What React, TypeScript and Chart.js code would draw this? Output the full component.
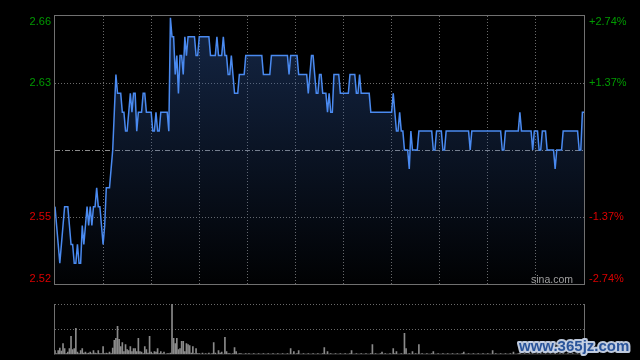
import React, { useEffect, useRef } from 'react';
import { Chart, registerables } from 'chart.js';

Chart.register(...registerables);

const PREV_CLOSE = 2.59;
const PERCENT_TICKS = [-2.74, -1.37, 1.37, 2.74];
const SESSION_MINUTES = 330;
const MINUTE_GRID = [0, 30, 60, 90, 120, 150, 180, 210, 240, 270, 300, 330];
const VOLUME_TICKS = [0, 50, 100];
const VOLUME_MAX = 100;

// one price per minute (HK session, 330 minutes)
const PRICES: number[] = [
  2.56, 2.55, 2.54, 2.53, 2.54, 2.55, 2.56, 2.56, 2.56, 2.55,
  2.54, 2.54, 2.53, 2.53, 2.54, 2.53, 2.53, 2.55, 2.54, 2.55,
  2.56, 2.55, 2.56, 2.55, 2.56, 2.56, 2.57, 2.56, 2.56, 2.55,
  2.54, 2.55, 2.57, 2.57, 2.57, 2.58, 2.59, 2.61, 2.63, 2.62,
  2.62, 2.62, 2.61, 2.61, 2.60, 2.60, 2.61, 2.62, 2.61, 2.62,
  2.62, 2.60, 2.61, 2.61, 2.61, 2.62, 2.62, 2.61, 2.61, 2.61,
  2.61, 2.60, 2.60, 2.61, 2.60, 2.60, 2.61, 2.61, 2.61, 2.61,
  2.61, 2.60, 2.66, 2.65, 2.65, 2.63, 2.64, 2.62, 2.64, 2.64,
  2.63, 2.65, 2.64, 2.65, 2.65, 2.65, 2.65, 2.65, 2.64, 2.64,
  2.65, 2.65, 2.65, 2.65, 2.65, 2.65, 2.65, 2.64, 2.64, 2.64,
  2.64, 2.65, 2.64, 2.64, 2.64, 2.65, 2.64, 2.64, 2.63, 2.63,
  2.64, 2.63, 2.62, 2.62, 2.62, 2.63, 2.63, 2.63, 2.63, 2.64,
  2.64, 2.64, 2.64, 2.64, 2.64, 2.64, 2.64, 2.64, 2.64, 2.64,
  2.63, 2.63, 2.63, 2.63, 2.63, 2.64, 2.64, 2.64, 2.64, 2.64,
  2.64, 2.64, 2.64, 2.64, 2.64, 2.64, 2.63, 2.64, 2.64, 2.64,
  2.64, 2.64, 2.63, 2.63, 2.63, 2.63, 2.63, 2.63, 2.62, 2.63,
  2.64, 2.64, 2.63, 2.62, 2.62, 2.63, 2.63, 2.62, 2.62, 2.62,
  2.61, 2.62, 2.61, 2.61, 2.63, 2.63, 2.63, 2.63, 2.62, 2.62,
  2.62, 2.62, 2.62, 2.62, 2.63, 2.63, 2.63, 2.63, 2.62, 2.62,
  2.63, 2.62, 2.62, 2.62, 2.62, 2.62, 2.62, 2.61, 2.61, 2.61,
  2.61, 2.61, 2.61, 2.61, 2.61, 2.61, 2.61, 2.61, 2.61, 2.61,
  2.61, 2.62, 2.61, 2.60, 2.60, 2.61, 2.60, 2.60, 2.59, 2.59,
  2.59, 2.58, 2.60, 2.59, 2.59, 2.59, 2.59, 2.60, 2.60, 2.60,
  2.60, 2.60, 2.60, 2.60, 2.60, 2.60, 2.59, 2.59, 2.60, 2.60,
  2.60, 2.60, 2.59, 2.59, 2.60, 2.60, 2.60, 2.60, 2.60, 2.60,
  2.60, 2.60, 2.60, 2.60, 2.60, 2.60, 2.60, 2.60, 2.60, 2.59,
  2.60, 2.60, 2.60, 2.60, 2.60, 2.60, 2.60, 2.60, 2.60, 2.60,
  2.60, 2.60, 2.60, 2.60, 2.60, 2.60, 2.60, 2.60, 2.60, 2.59,
  2.59, 2.60, 2.60, 2.60, 2.60, 2.60, 2.60, 2.60, 2.60, 2.60,
  2.61, 2.60, 2.60, 2.60, 2.60, 2.60, 2.60, 2.60, 2.59, 2.60,
  2.60, 2.60, 2.59, 2.59, 2.60, 2.60, 2.60, 2.59, 2.59, 2.59,
  2.59, 2.59, 2.58, 2.59, 2.59, 2.59, 2.59, 2.60, 2.60, 2.60,
  2.60, 2.60, 2.60, 2.60, 2.60, 2.60, 2.60, 2.59, 2.59, 2.61,
  2.61,
];

// relative volume per minute (max = 100)
const VOLUMES: number[] = [
  8, 2, 8, 13, 7, 22, 12, 2, 5, 12,
  36, 10, 12, 52, 5, 2, 8, 12, 3, 5,
  2, 3, 5, 2, 8, 3, 2, 8, 2, 2,
  16, 2, 3, 2, 5, 2, 13, 28, 32, 56,
  30, 16, 24, 6, 20, 10, 8, 16, 6, 12,
  12, 6, 32, 6, 5, 2, 16, 10, 3, 36,
  5, 2, 6, 5, 12, 2, 6, 2, 5, 1,
  2, 2, 3, 100, 32, 22, 32, 10, 12, 26,
  26, 6, 22, 20, 18, 3, 16, 2, 12, 2,
  2, 1, 3, 1, 2, 1, 3, 1, 2, 24,
  3, 1, 8, 3, 5, 1, 34, 6, 2, 2,
  1, 2, 14, 6, 1, 2, 2, 1, 1, 2,
  1, 2, 1, 1, 2, 1, 1, 2, 1, 1,
  2, 1, 1, 2, 1, 1, 2, 1, 1, 2,
  1, 1, 2, 1, 1, 2, 1, 12, 1, 6,
  1, 2, 8, 1, 1, 2, 1, 1, 2, 1,
  1, 2, 1, 1, 2, 1, 1, 2, 14, 1,
  6, 1, 2, 1, 1, 2, 1, 1, 2, 1,
  1, 2, 1, 1, 2, 8, 1, 1, 2, 1,
  1, 2, 1, 1, 2, 1, 1, 2, 20, 1,
  2, 1, 1, 2, 5, 1, 2, 1, 1, 2,
  1, 12, 2, 6, 1, 1, 2, 1, 42, 12,
  1, 2, 1, 6, 1, 2, 1, 20, 1, 2,
  1, 1, 2, 1, 1, 2, 6, 1, 1, 2,
  1, 1, 2, 1, 1, 2, 1, 1, 2, 1,
  1, 2, 1, 1, 2, 5, 1, 1, 2, 1,
  1, 2, 1, 1, 2, 1, 1, 2, 1, 1,
  2, 1, 1, 8, 1, 2, 1, 1, 2, 1,
  1, 2, 1, 1, 2, 1, 5, 1, 1, 2,
  3, 1, 1, 2, 1, 1, 2, 1, 2, 1,
  1, 2, 1, 2, 1, 1, 2, 1, 1, 2,
  1, 1, 3, 1, 1, 2, 1, 2, 1, 1,
  2, 1, 1, 2, 1, 1, 2, 1, 2, 3,
  3,
];

const GREEN = '#009a00';
const RED = '#dd0000';
const GRID = '#6a6a6a';
const FRAME = '#707070';
const FONT = 'Arial, "Liberation Sans", Helvetica, sans-serif';

export default function App() {
  const priceRef = useRef<HTMLCanvasElement | null>(null);
  const volRef = useRef<HTMLCanvasElement | null>(null);

  useEffect(() => {
    const priceTicks = PERCENT_TICKS.map((p) => PREV_CLOSE * (1 + p / 100));
    const yMin = priceTicks[0];
    const yMax = priceTicks[priceTicks.length - 1];

    const framePlugin = {
      id: 'priceFrame',
      beforeDatasetsDraw(chart: any) {
        const { ctx, chartArea: a, scales } = chart;
        const y = Math.floor(scales.y.getPixelForValue(PREV_CLOSE)) + 0.5;
        ctx.save();
        ctx.strokeStyle = '#8c8c8c';
        ctx.lineWidth = 1;
        ctx.setLineDash([5, 2, 1, 2]);
        ctx.beginPath();
        ctx.moveTo(a.left, y);
        ctx.lineTo(a.right, y);
        ctx.stroke();
        ctx.restore();
      },
      afterDraw(chart: any) {
        const { ctx, chartArea: a } = chart;
        ctx.save();
        ctx.strokeStyle = FRAME;
        ctx.lineWidth = 1;
        ctx.strokeRect(a.left - 0.5, a.top - 0.5, a.right - a.left + 1, a.bottom - a.top + 1);
        ctx.fillStyle = '#a0a0a0';
        ctx.font = '10.5px ' + FONT;
        ctx.textAlign = 'right';
        ctx.textBaseline = 'alphabetic';
        ctx.fillText('sina.com', a.right - 11, a.bottom - 1);
        ctx.restore();
      },
    };

    const priceChart = new Chart(priceRef.current as HTMLCanvasElement, {
      type: 'line',
      data: {
        datasets: [
          {
            data: PRICES.map((p, i) => ({ x: i, y: p })),
            borderColor: '#4a8af0',
            borderWidth: 1.5,
            pointRadius: 0,
            tension: 0,
            fill: 'start',
            backgroundColor: (c: any) => {
              const chart = c.chart;
              const a = chart.chartArea;
              if (!a) return 'rgba(0,0,0,0)';
              const g = chart.ctx.createLinearGradient(0, a.top, 0, a.bottom);
              g.addColorStop(0, 'rgba(45,85,155,0.45)');
              g.addColorStop(1, 'rgba(45,85,155,0.02)');
              return g;
            },
          },
        ],
      },
      options: {
        responsive: false,
        animation: false,
        events: [],
        layout: { padding: { top: 15, bottom: 76, left: 0, right: 0 } },
        plugins: { legend: { display: false }, tooltip: { enabled: false } },
        scales: {
          x: {
            type: 'linear',
            min: 0,
            max: SESSION_MINUTES,
            afterBuildTicks: (s: any) => {
              s.ticks = MINUTE_GRID.map((v) => ({ value: v }));
            },
            afterFit: (s: any) => {
              s.height = 0;
            },
            ticks: { display: false },
            grid: {
              drawTicks: false,
              color: (c: any) =>
                c.index === 0 || c.index === MINUTE_GRID.length - 1 ? 'rgba(0,0,0,0)' : GRID,
            },
            border: { display: false, dash: [1, 2] },
          },
          y: {
            type: 'linear',
            position: 'left',
            min: yMin,
            max: yMax,
            afterBuildTicks: (s: any) => {
              s.ticks = priceTicks.map((v) => ({ value: v }));
            },
            afterFit: (s: any) => {
              s.width = 55;
            },
            ticks: {
              autoSkip: false,
              padding: 4,
              font: { family: FONT, size: 11, lineHeight: 1 },
              color: (c: any) => (c.tick && c.tick.value > PREV_CLOSE ? GREEN : RED),
              callback: (value: any, index: number, ticks: any[]) => {
                const s = Number(value).toFixed(2);
                if (index === ticks.length - 1) return ['', s];
                if (index === 0) return [s, ''];
                return s;
              },
            },
            grid: {
              drawTicks: false,
              color: (c: any) =>
                c.index === 0 || c.index === priceTicks.length - 1 ? 'rgba(0,0,0,0)' : GRID,
            },
            border: { display: false, dash: [1, 2] },
          },
          y2: {
            type: 'linear',
            position: 'right',
            min: yMin,
            max: yMax,
            afterBuildTicks: (s: any) => {
              s.ticks = priceTicks.map((v) => ({ value: v }));
            },
            afterFit: (s: any) => {
              s.width = 56;
            },
            ticks: {
              autoSkip: false,
              padding: 5,
              font: { family: FONT, size: 11, lineHeight: 1 },
              color: (c: any) => (c.tick && c.tick.value > PREV_CLOSE ? GREEN : RED),
              callback: (value: any, index: number, ticks: any[]) => {
                const pct = (Number(value) / PREV_CLOSE - 1) * 100;
                const s = (pct > 0 ? '+' : '') + pct.toFixed(2) + '%';
                if (index === ticks.length - 1) return ['', s];
                if (index === 0) return [s, ''];
                return s;
              },
            },
            grid: { display: false, drawTicks: false },
            border: { display: false },
          },
        },
      },
      plugins: [framePlugin],
    } as any);

    const volFramePlugin = {
      id: 'volFrame',
      afterDraw(chart: any) {
        const { ctx, chartArea: a } = chart;
        ctx.save();
        ctx.strokeStyle = FRAME;
        ctx.lineWidth = 1;
        ctx.beginPath();
        ctx.moveTo(a.left - 0.5, Math.floor(a.top));
        ctx.lineTo(a.left - 0.5, a.bottom);
        ctx.moveTo(a.right + 0.5, Math.floor(a.top));
        ctx.lineTo(a.right + 0.5, a.bottom);
        ctx.stroke();
        // site watermark
        ctx.font = 'bold 15px ' + FONT;
        ctx.textAlign = 'left';
        ctx.textBaseline = 'alphabetic';
        ctx.lineJoin = 'round';
        ctx.lineWidth = 4;
        ctx.strokeStyle = 'rgba(200,212,232,0.95)';
        ctx.strokeText('www.365jz.com', 519, 351);
        ctx.fillStyle = '#2a549a';
        ctx.fillText('www.365jz.com', 519, 351);
        ctx.restore();
      },
    };

    const volChart = new Chart(volRef.current as HTMLCanvasElement, {
      type: 'bar',
      data: {
        datasets: [
          {
            data: VOLUMES.map((v, i) => ({ x: i, y: v })),
            backgroundColor: '#8a8a8a',
            borderWidth: 0,
            barThickness: 1,
          },
        ],
      },
      options: {
        responsive: false,
        animation: false,
        events: [],
        layout: { padding: { top: 304, bottom: 5.4, left: 55, right: 56 } },
        plugins: { legend: { display: false }, tooltip: { enabled: false } },
        scales: {
          x: {
            type: 'linear',
            display: false,
            offset: false,
            min: 0,
            max: SESSION_MINUTES,
            grid: { offset: false },
          },
          y: {
            type: 'linear',
            position: 'left',
            min: 0,
            max: VOLUME_MAX,
            afterBuildTicks: (s: any) => {
              s.ticks = VOLUME_TICKS.map((v) => ({ value: v }));
            },
            afterFit: (s: any) => {
              s.width = 0;
            },
            ticks: { display: false },
            grid: {
              drawTicks: false,
              color: (c: any) => (c.index === 0 ? 'rgba(0,0,0,0)' : GRID),
            },
            border: { display: false, dash: [1, 2] },
          },
        },
      },
      plugins: [volFramePlugin],
    } as any);

    return () => {
      priceChart.destroy();
      volChart.destroy();
    };
  }, []);

  const canvasStyle: React.CSSProperties = {
    position: 'absolute',
    left: 0,
    top: 0,
    width: 640,
    height: 360,
    display: 'block',
  };

  return (
    <div
      style={{
        position: 'fixed',
        left: 0,
        top: 0,
        width: 640,
        height: 360,
        background: '#000',
        overflow: 'hidden',
      }}
    >
      <canvas ref={priceRef} width={640} height={360} style={canvasStyle} />
      <canvas ref={volRef} width={640} height={360} style={canvasStyle} />
    </div>
  );
}
